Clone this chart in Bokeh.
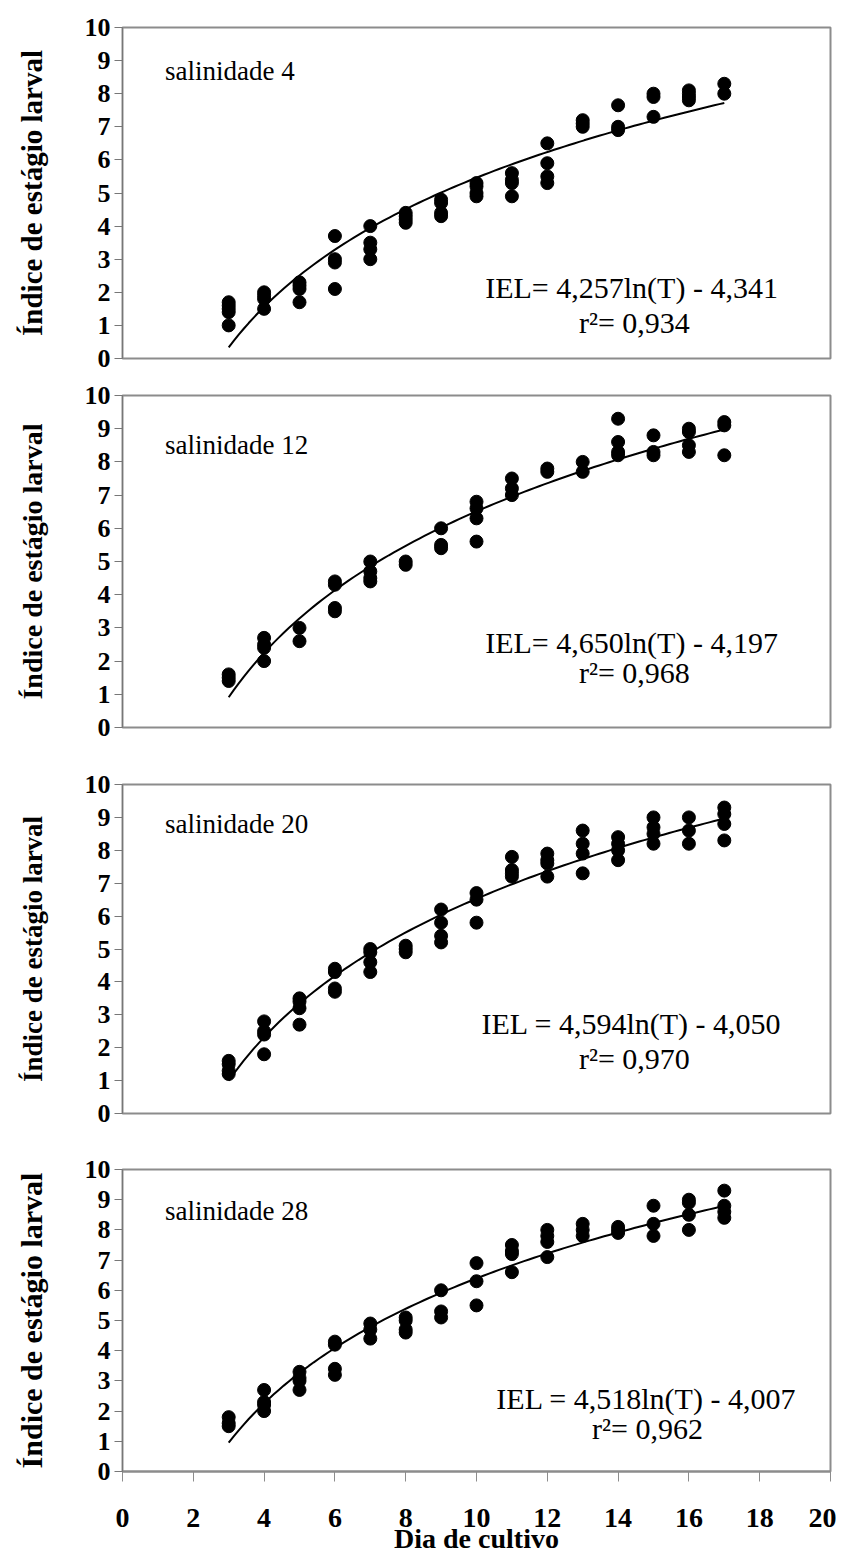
import numpy as np
from bokeh.plotting import figure
from bokeh.layouts import column
from bokeh.models import Range1d, FixedTicker, Label
from bokeh.embed import file_html
from bokeh.resources import INLINE

# ---------------- data ----------------
day_ticks = list(range(0, 21, 2))
iel_ticks = list(range(0, 11))

# salinidade 4
s4_x = [3, 3, 3, 3, 3, 4, 4, 4, 4, 5, 5, 5, 5, 6, 6, 6, 6, 7, 7, 7, 7, 8, 8, 8, 8,
        9, 9, 9, 9, 10, 10, 10, 10, 11, 11, 11, 11, 12, 12, 12, 12, 13, 13, 13,
        14, 14, 14, 15, 15, 15, 16, 16, 16, 16, 17, 17]
s4_y = [1.0, 1.4, 1.5, 1.6, 1.7, 1.5, 1.8, 1.9, 2.0, 1.7, 2.1, 2.2, 2.3, 2.1, 2.9, 3.0, 3.7,
        3.0, 3.3, 3.5, 4.0, 4.1, 4.2, 4.3, 4.4, 4.3, 4.4, 4.7, 4.8, 4.9, 5.0, 5.2, 5.3,
        4.9, 5.3, 5.4, 5.6, 5.3, 5.5, 5.9, 6.5, 7.0, 7.1, 7.2, 6.9, 7.0, 7.65,
        7.3, 7.9, 8.0, 7.8, 7.9, 8.0, 8.1, 8.0, 8.3]

# salinidade 12
s12_x = [3, 3, 3, 4, 4, 4, 4, 5, 5, 6, 6, 6, 6, 7, 7, 7, 7, 8, 8, 9, 9, 9,
         10, 10, 10, 10, 11, 11, 11, 12, 12, 13, 13, 14, 14, 14, 14, 15, 15, 15,
         16, 16, 16, 16, 17, 17, 17]
s12_y = [1.4, 1.5, 1.6, 2.0, 2.4, 2.5, 2.7, 2.6, 3.0, 3.5, 3.6, 4.3, 4.4, 4.4, 4.5, 4.7, 5.0,
         4.9, 5.0, 5.4, 5.5, 6.0, 5.6, 6.3, 6.6, 6.8, 7.0, 7.2, 7.5, 7.7, 7.8, 7.7, 8.0,
         8.2, 8.3, 8.6, 9.3, 8.2, 8.3, 8.8, 8.3, 8.5, 8.9, 9.0, 8.2, 9.1, 9.2]

# salinidade 20
s20_x = [3, 3, 3, 3, 4, 4, 4, 4, 5, 5, 5, 5, 6, 6, 6, 6, 7, 7, 7, 7, 8, 8, 8,
         9, 9, 9, 9, 10, 10, 10, 11, 11, 11, 11, 12, 12, 12, 12, 13, 13, 13, 13,
         14, 14, 14, 14, 15, 15, 15, 15, 16, 16, 16, 17, 17, 17, 17]
s20_y = [1.2, 1.3, 1.5, 1.6, 1.8, 2.4, 2.5, 2.8, 2.7, 3.2, 3.4, 3.5, 3.7, 3.8, 4.3, 4.4,
         4.3, 4.6, 4.9, 5.0, 4.9, 5.0, 5.1, 5.2, 5.4, 5.8, 6.2, 5.8, 6.5, 6.7,
         7.2, 7.3, 7.4, 7.8, 7.2, 7.6, 7.7, 7.9, 7.3, 7.9, 8.2, 8.6,
         7.7, 8.0, 8.2, 8.4, 8.2, 8.5, 8.7, 9.0, 8.2, 8.6, 9.0, 8.3, 8.8, 9.1, 9.3]

# salinidade 28
s28_x = [3, 3, 3, 4, 4, 4, 4, 5, 5, 5, 5, 6, 6, 6, 6, 7, 7, 7, 8, 8, 8, 8,
         9, 9, 9, 10, 10, 10, 11, 11, 11, 11, 12, 12, 12, 12, 13, 13, 13,
         14, 14, 14, 15, 15, 15, 16, 16, 16, 16, 17, 17, 17, 17]
s28_y = [1.5, 1.6, 1.8, 2.0, 2.2, 2.3, 2.7, 2.7, 3.0, 3.1, 3.3, 3.2, 3.4, 4.2, 4.3,
         4.4, 4.7, 4.9, 4.6, 4.7, 5.0, 5.1, 5.1, 5.3, 6.0, 5.5, 6.3, 6.9,
         6.6, 7.2, 7.3, 7.5, 7.1, 7.6, 7.8, 8.0, 7.8, 8.0, 8.2,
         7.9, 8.0, 8.1, 7.8, 8.2, 8.8, 8.0, 8.5, 8.9, 9.0, 8.4, 8.6, 8.8, 9.3]

panel_labels = ["salinidade 4", "salinidade 12", "salinidade 20", "salinidade 28"]
fit_a = [4.257, 4.650, 4.594, 4.518]
fit_b = [-4.341, -4.197, -4.050, -4.007]
eq_texts = ["IEL= 4,257ln(T) - 4,341", "IEL= 4,650ln(T) - 4,197",
            "IEL = 4,594ln(T) - 4,050", "IEL = 4,518ln(T) - 4,007"]
r2_texts = ["r\u00b2= 0,934", "r\u00b2= 0,968", "r\u00b2= 0,970", "r\u00b2= 0,962"]
fit_day_range = [3, 17]

xs_all = [s4_x, s12_x, s20_x, s28_x]
ys_all = [s4_y, s12_y, s20_y, s28_y]

# ---------------- layout ----------------
LEFT = 122
FRAME_W = 708
# (top border, frame height, bottom border)
geom = [
    (27, 331, 18),
    (19, 332, 33),
    (24, 329, 27),
    (29, 302, 88),
]
name_pos = [(1.2, 8.7), (1.2, 8.5), (1.2, 8.8), (1.2, 8.64)]
eq_pos = [(14.38, 2.15), (14.38, 2.56), (14.38, 2.74), (14.8, 2.42)]
r2_pos = [(14.46, 1.09), (14.46, 1.66), (14.46, 1.67), (14.83, 1.42)]
ylabel_sizes = ["29px", "28px", "27px", "30px"]

SERIF = "'Liberation Serif', 'Times New Roman', serif"
GRAY = "#8c8c8c"

figs = []
for i in range(4):
    tb, fh, bb = geom[i]
    last = (i == 3)
    p = figure(frame_width=FRAME_W, frame_height=fh, x_range=Range1d(0, 20), y_range=Range1d(0, 10),
               output_backend="svg", toolbar_location=None, title=None,
               min_border_left=LEFT, min_border_right=6, min_border_top=tb, min_border_bottom=bb)
    p.grid.visible = False
    p.outline_line_color = GRAY
    p.outline_line_width = 2

    # y axis
    ya = p.yaxis[0]
    ya.ticker = FixedTicker(ticks=iel_ticks)
    ya.minor_tick_line_color = None
    ya.major_tick_out = 8
    ya.major_tick_in = 0
    ya.major_tick_line_color = "#777777"
    ya.axis_line_color = "#777777"
    ya.major_label_text_font = SERIF
    ya.major_label_text_font_style = "bold"
    ya.major_label_text_font_size = "26px"
    ya.major_label_text_color = "black"
    ya.major_label_standoff = 4
    ya.axis_label = "\u00cdndice de est\u00e1gio larval"
    ya.axis_label_text_font = SERIF
    ya.axis_label_text_font_style = "bold"
    ya.axis_label_text_font_size = ylabel_sizes[i]
    ya.axis_label_text_color = "black"
    ya.axis_label_standoff = 34

    xa = p.xaxis[0]
    if last:
        xa.ticker = FixedTicker(ticks=day_ticks)
        xa.minor_tick_line_color = None
        xa.major_tick_out = 10
        xa.major_tick_in = 0
        xa.major_tick_line_color = GRAY
        xa.axis_line_color = GRAY
        xa.axis_line_width = 2
        xa.major_label_text_font = SERIF
        xa.major_label_text_font_style = "bold"
        xa.major_label_text_font_size = "28px"
        xa.major_label_text_color = "black"
        xa.major_label_standoff = 27
        xa.axis_label = "Dia de cultivo"
        xa.axis_label_text_font = SERIF
        xa.axis_label_text_font_style = "bold"
        xa.axis_label_text_font_size = "28px"
        xa.axis_label_text_color = "black"
        xa.axis_label_standoff = -7
    else:
        xa.visible = False

    # fitted curve from the equation coefficients shown on the chart
    tx = np.linspace(fit_day_range[0], fit_day_range[1], 100)
    ty = fit_a[i] * np.log(tx) + fit_b[i]
    p.line(tx, ty, line_color="black", line_width=2)

    p.scatter(xs_all[i], ys_all[i], size=13, marker="circle", color="black")

    p.add_layout(Label(x=name_pos[i][0], y=name_pos[i][1], text=panel_labels[i],
                       text_font=SERIF, text_font_size="27px", text_baseline="middle",
                       text_align="left", text_color="black"))
    p.add_layout(Label(x=eq_pos[i][0], y=eq_pos[i][1], text=eq_texts[i],
                       text_font=SERIF, text_font_size="30px", text_baseline="middle",
                       text_align="center", text_color="black"))
    p.add_layout(Label(x=r2_pos[i][0], y=r2_pos[i][1], text=r2_texts[i],
                       text_font=SERIF, text_font_size="30px", text_baseline="middle",
                       text_align="center", text_color="black"))
    figs.append(p)

layout = column(*figs, spacing=0)
open("out.html", "w").write(file_html(layout, INLINE))
